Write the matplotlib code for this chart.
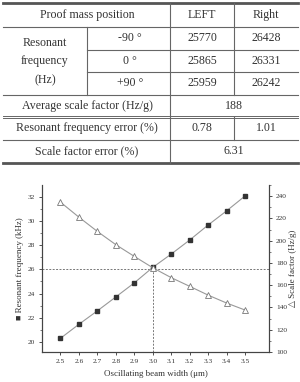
import matplotlib.pyplot as plt
from matplotlib.lines import Line2D
from matplotlib.ticker import MultipleLocator

# tabla
angulos = ['-90 °', '0 °', '+90 °']
frec_left = [25770, 25865, 25959]
frec_right = [26428, 26331, 26242]
factor_medio = '188'
error_frec = ['0.78', '1.01']
error_factor = '6.31'

# grafico
ancho = [2.5, 2.6, 2.7, 2.8, 2.9, 3.0, 3.1, 3.2, 3.3, 3.4, 3.5]
frecuencia = [20.3, 21.46, 22.57, 23.72, 24.88, 26.16, 27.26, 28.42, 29.66, 30.83, 32.06]
factor = [234.6, 221.1, 208.3, 196.4, 185.9, 175.7, 166.8, 159.0, 151.1, 144.0, 137.7]
frec_ref = 26.0
ancho_ref = 3.0

plt.rcParams['font.family'] = ['Liberation Serif', 'DejaVu Sans']
W, H = 300, 382
fig = plt.figure(figsize=(W / 100, H / 100), dpi=100)

def fx(x):
    return x / W

def fy(y):
    return 1 - y / H

def linea(x0, x1, y, lw=0.8, c='#666666'):
    fig.add_artist(Line2D([fx(x0), fx(x1)], [fy(y), fy(y)], lw=lw, color=c))

def vlinea(x, y0, y1, lw=0.8, c='#666666'):
    fig.add_artist(Line2D([fx(x), fx(x)], [fy(y0), fy(y1)], lw=lw, color=c))

def texto(x, y, s, size=8.6):
    fig.text(fx(x), fy(y), s, ha='center', va='center', fontsize=size, color='#333333')

# lineas de la tabla
linea(3, 298, 2.7, lw=2, c='#555555')
linea(3, 298, 26.7)
linea(87, 298, 50)
linea(87, 298, 71.7)
linea(3, 298, 95)
linea(3, 298, 116, lw=0.7)
linea(3, 298, 118, lw=0.7)
linea(3, 298, 140)
linea(3, 298, 163, lw=2, c='#555555')
vlinea(87, 26.7, 95)
vlinea(170, 2.7, 163)
vlinea(234, 2.7, 95)
vlinea(234, 117, 140)

texto(87, 15, 'Proof mass position')
texto(202, 15, 'LEFT')
texto(266, 15, 'Right')
texto(45, 43, 'Resonant')
texto(45, 61, 'frequency')
texto(45, 80, '(Hz)')
for i, (a, l, r) in enumerate(zip(angulos, frec_left, frec_right)):
    yy = 38 + i * 22.5
    texto(130, yy, a)
    texto(202, yy, str(l))
    texto(266, yy, str(r))
texto(87, 106, 'Average scale factor (Hz/g)')
texto(234, 106, factor_medio)
texto(87, 128.5, 'Resonant frequency error (%)')
texto(202, 128.5, error_frec[0])
texto(266, 128.5, error_frec[1])
texto(87, 151, 'Scale factor error (%)')
texto(234, 151, error_factor)

# grafico
ax = fig.add_axes([fx(42), fy(352), fx(269 - 42), (352 - 185) / H])
ax2 = ax.twinx()

gris = '#999999'
ax.axhline(frec_ref, color='#777777', lw=0.7, ls=(0, (2, 1.5)), zorder=1)
ax.plot([ancho_ref, ancho_ref], [19.17, frec_ref], color='#777777', lw=0.7, ls=(0, (2, 1.5)), zorder=1)
ax.plot(ancho, frecuencia, '-s', color=gris, lw=0.8, ms=3.5, mfc='#333333', mec='#333333', zorder=3)
ax2.plot(ancho, factor, '-^', color=gris, lw=0.8, ms=4.5, mfc='white', mec='#777777', mew=0.6, zorder=3)

ax.set_xlim(2.4, 3.63)
ax.set_ylim(19.17, 32.97)
ax2.set_ylim(100, 250)
ax.set_xticks(ancho)
ax.set_xticklabels([f'{v:.1f}' for v in ancho])
ax.set_yticks([20, 22, 24, 26, 28, 30, 32])
ax.yaxis.set_minor_locator(MultipleLocator(1))
ax2.set_yticks([100, 120, 140, 160, 180, 200, 220, 240])
ax2.yaxis.set_minor_locator(MultipleLocator(10))

for a in (ax, ax2):
    a.spines['top'].set_visible(False)
    for s in a.spines.values():
        s.set_color('#444444')
        s.set_linewidth(0.8)
    a.tick_params(labelsize=5.3, colors='#333333', length=2.5, width=0.6, pad=2.5)
    a.tick_params(which='minor', length=1.5, width=0.5, colors='#444444')

ax.set_xlabel('Oscillating beam width (μm)', fontsize=6.5, color='#333333', labelpad=4)
ax.set_ylabel('■ Resonant frequency (kHz)', fontsize=6.5, color='#333333', labelpad=3)
ax2.set_ylabel('△ Scale factor (Hz/g)', fontsize=6.5, color='#333333', labelpad=1.5)

fig.savefig('out.png', dpi=100)
